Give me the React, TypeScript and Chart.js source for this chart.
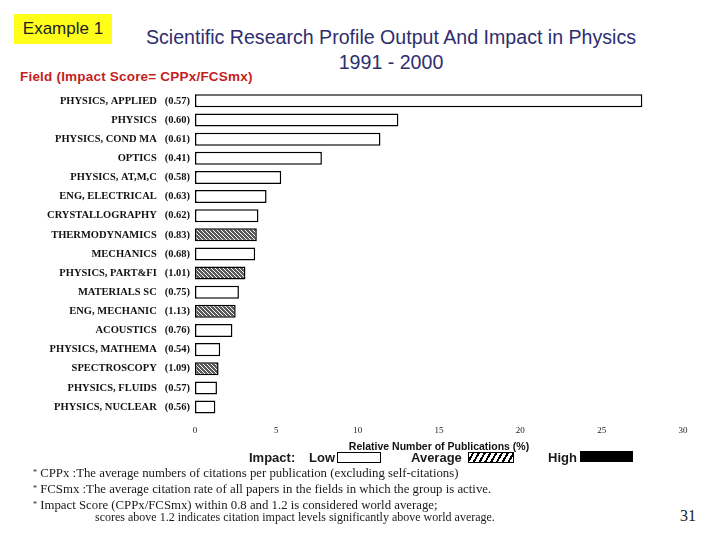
import React, { useEffect, useRef } from 'react';
import { Chart, registerables } from 'chart.js';

Chart.register(...registerables);

// fields, largest output first
const fields = [
  'PHYSICS, APPLIED',
  'PHYSICS',
  'PHYSICS, COND MA',
  'OPTICS',
  'PHYSICS, AT,M,C',
  'ENG, ELECTRICAL',
  'CRYSTALLOGRAPHY',
  'THERMODYNAMICS',
  'MECHANICS',
  'PHYSICS, PART&FI',
  'MATERIALS SC',
  'ENG, MECHANIC',
  'ACOUSTICS',
  'PHYSICS, MATHEMA',
  'SPECTROSCOPY',
  'PHYSICS, FLUIDS',
  'PHYSICS, NUCLEAR',
];

// impact score = CPPx / FCSmx
const impactScores = [0.57, 0.6, 0.61, 0.41, 0.58, 0.63, 0.62, 0.83, 0.68, 1.01, 0.75, 1.13, 0.76, 0.54, 1.09, 0.57, 0.56];

// relative number of publications (%)
const publicationShare = [27.5, 12.5, 11.4, 7.8, 5.3, 4.4, 3.9, 3.8, 3.7, 3.1, 2.7, 2.5, 2.3, 1.55, 1.45, 1.35, 1.25];

const xTicks = [0, 5, 10, 15, 20, 25, 30];

const footnotes = [
  'CPPx :The average numbers of citations per publication (excluding self-citations)',
  'FCSmx :The average citation rate of all papers in the fields in which the group is active.',
  'Impact Score (CPPx/FCSmx) within 0.8 and 1.2 is considered world average;',
];

// dense grey texture used for "average" impact bars
function makeHatch(ctx: CanvasRenderingContext2D) {
  const c = document.createElement('canvas');
  c.width = 4;
  c.height = 4;
  const p = c.getContext('2d')!;
  p.fillStyle = '#ffffff';
  p.fillRect(0, 0, 4, 4);
  p.fillStyle = '#5a5a5a';
  for (let x = 0; x < 4; x++) {
    for (let y = 0; y < 4; y++) {
      if ((x + y) % 2 === 0 || (x - y + 4) % 4 === 1) p.fillRect(x, y, 1, 1);
    }
  }
  return ctx.createPattern(c, 'repeat')!;
}

const ProfileChart: React.FC = () => {
  const canvasRef = useRef<HTMLCanvasElement | null>(null);

  useEffect(() => {
    if (!canvasRef.current) return;
    const ctx = canvasRef.current.getContext('2d');
    if (!ctx) return;

    const hatch = makeHatch(ctx);
    const fills = impactScores.map((s) => (s > 1.2 ? '#000000' : s >= 0.8 ? hatch : '#ffffff'));

    const chart = new Chart(ctx, {
      type: 'bar',
      data: {
        labels: fields.map((f, i) => `${f}   (${impactScores[i].toFixed(2)})`),
        datasets: [
          {
            data: publicationShare,
            backgroundColor: fills,
            borderColor: '#000000',
            borderWidth: 1.5,
            borderSkipped: false,
            barPercentage: 0.68,
            categoryPercentage: 1,
          },
        ],
      },
      options: {
        indexAxis: 'y',
        animation: false,
        responsive: true,
        maintainAspectRatio: false,
        layout: { padding: { top: 10.4, right: 37, bottom: 0, left: 0 } },
        plugins: { legend: { display: false }, tooltip: { enabled: false } },
        scales: {
          x: {
            min: 0,
            max: 30,
            afterBuildTicks: (scale) => {
              scale.ticks = xTicks.map((v) => ({ value: v }));
            },
            afterFit: (scale) => {
              scale.height = 38.4;
            },
            grid: { display: false, drawTicks: false },
            border: { display: false },
            ticks: {
              padding: 9,
              color: '#222222',
              font: { family: 'Liberation Serif', size: 9 },
            },
            title: {
              display: true,
              text: 'Relative Number of Publications (%)',
              color: '#111111',
              font: { family: 'Liberation Sans', size: 10.5, weight: 'bold' },
              padding: { top: 0, bottom: 2 },
            },
          },
          y: {
            afterFit: (scale) => {
              scale.width = 195;
            },
            grid: { display: false, drawTicks: false },
            border: { display: false },
            ticks: {
              padding: 5,
              color: '#111111',
              font: { family: 'Liberation Serif', size: 10.5, weight: 'bold' },
            },
          },
        },
      },
    });

    return () => {
      chart.destroy();
    };
  }, []);

  return <canvas ref={canvasRef} />;
};

const abs = (left: number, top: number): React.CSSProperties => ({ position: 'absolute', left, top, whiteSpace: 'nowrap' });

const legendText: React.CSSProperties = {
  fontFamily: 'Liberation Sans',
  fontWeight: 'bold',
  fontSize: 13,
  color: '#1a1a1a',
  lineHeight: '16px',
};

const App: React.FC = () => {
  return (
    <div style={{ position: 'fixed', left: 0, top: 0, width: 720, height: 540, background: '#ffffff', overflow: 'hidden' }}>
      <div
        style={{
          ...abs(14, 14),
          width: 98,
          height: 30,
          background: '#ffff1a',
          fontFamily: 'Liberation Sans',
          fontSize: 17,
          lineHeight: '30px',
          textAlign: 'center',
          color: '#222222',
        }}
      >
        Example 1
      </div>
      <div
        style={{
          ...abs(135, 25),
          width: 512,
          textAlign: 'center',
          fontFamily: 'Liberation Sans',
          fontSize: 19.6,
          lineHeight: '25px',
          color: '#2e2e6e',
        }}
      >
        Scientific Research Profile Output And Impact in Physics
        <br />
        1991 - 2000
      </div>
      <div
        style={{
          ...abs(20, 69),
          fontFamily: 'Liberation Sans',
          fontWeight: 'bold',
          fontSize: 13.5,
          letterSpacing: 0.2,
          color: '#c41e1e',
        }}
      >
        Field (Impact Score= CPPx/FCSmx)
      </div>

      <div style={{ position: 'absolute', left: 0, top: 80, width: 720, height: 375 }}>
        <ProfileChart />
      </div>

      <div style={{ ...abs(249, 450), ...legendText }}>Impact:</div>
      <div style={{ ...abs(309, 450), ...legendText }}>Low</div>
      <div style={{ ...abs(337, 452), width: 42, height: 9, border: '1px solid #000', background: '#fff' }} />
      <div style={{ ...abs(411, 450), ...legendText }}>Average</div>
      <div
        style={{
          ...abs(468, 452),
          width: 44,
          height: 9,
          border: '1px solid #000',
          background: 'repeating-linear-gradient(-60deg, #ffffff 0px, #ffffff 3px, #000000 3px, #000000 5px)',
        }}
      />
      <div style={{ ...abs(548, 450), ...legendText }}>High</div>
      <div style={{ ...abs(580, 451), width: 53, height: 11, background: '#000' }} />

      <div style={{ ...abs(33, 465), fontFamily: 'Liberation Serif', fontSize: 12.8, color: '#1a1a1a', lineHeight: '16px' }}>
        {footnotes.map((t) => (
          <div key={t}>
            <span style={{ fontSize: 8, verticalAlign: 'top' }}>*</span> {t}
          </div>
        ))}
        <div style={{ paddingLeft: 62, marginTop: -4, fontSize: 12 }}>
          scores above 1.2 indicates citation impact levels significantly above world average.
        </div>
      </div>
      <div style={{ ...abs(680, 507), fontFamily: 'Liberation Serif', fontSize: 16, color: '#1a1a1a' }}>31</div>
    </div>
  );
};

export default App;
